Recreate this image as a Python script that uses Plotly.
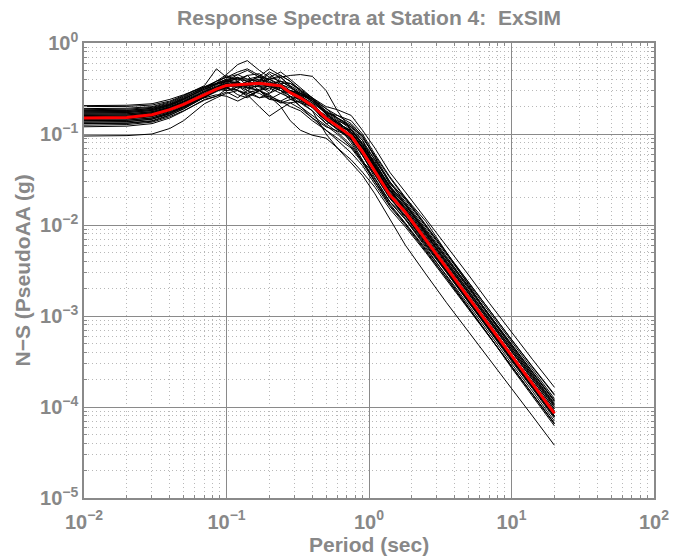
import plotly.graph_objects as go

# Periods (sec) at which spectra are sampled
periods = [0.01, 0.02, 0.03, 0.04, 0.05, 0.06, 0.07, 0.085, 0.1, 0.12,
           0.14, 0.17, 0.2, 0.24, 0.28, 0.33, 0.4, 0.5, 0.6, 0.75,
           0.9, 1.1, 1.4, 1.8, 2.5, 3.5, 5, 7, 10, 14, 20]

# Mean spectrum (red)
mean_sa = [0.150, 0.152, 0.163, 0.185, 0.212, 0.243, 0.272, 0.312, 0.342, 0.348,
           0.350, 0.362, 0.350, 0.338, 0.285, 0.250, 0.205, 0.149, 0.122, 0.095,
           0.064, 0.0385, 0.0214, 0.0138, 0.0069, 0.0034, 0.00159, 0.00078, 0.00036, 0.000181,
           0.000085]

# Individual realizations (black)
c01 = [0.095, 0.096, 0.100, 0.115, 0.140, 0.175, 0.215, 0.250, 0.280, 0.300,
       0.260, 0.300, 0.240, 0.230, 0.260, 0.240, 0.195, 0.140, 0.112, 0.086,
       0.058, 0.036, 0.0200, 0.0128, 0.0064, 0.0032, 0.00150, 0.00072, 0.00034, 0.000170,
       0.000080]
c02 = [0.205, 0.207, 0.215, 0.240, 0.270, 0.300, 0.330, 0.380, 0.420, 0.450,
       0.400, 0.430, 0.520, 0.440, 0.380, 0.300, 0.250, 0.190, 0.150, 0.120,
       0.085, 0.052, 0.0290, 0.0180, 0.0092, 0.0045, 0.00210, 0.00102, 0.00048, 0.000240,
       0.000115]
c03 = [0.160, 0.162, 0.172, 0.195, 0.225, 0.260, 0.290, 0.330, 0.360, 0.300,
       0.270, 0.200, 0.157, 0.190, 0.220, 0.230, 0.200, 0.160, 0.130, 0.090,
       0.072, 0.050, 0.0260, 0.0140, 0.0066, 0.0034, 0.00165, 0.00081, 0.00038, 0.000190,
       0.000090]
c04 = [0.170, 0.172, 0.180, 0.205, 0.240, 0.280, 0.320, 0.380, 0.450, 0.580,
       0.640, 0.500, 0.420, 0.380, 0.330, 0.280, 0.230, 0.165, 0.135, 0.105,
       0.070, 0.042, 0.0235, 0.0150, 0.0075, 0.0037, 0.00175, 0.00086, 0.00040, 0.000200,
       0.000095]
c05 = [0.150, 0.152, 0.160, 0.180, 0.205, 0.235, 0.260, 0.300, 0.330, 0.340,
       0.360, 0.380, 0.400, 0.420, 0.440, 0.450, 0.430, 0.300, 0.180, 0.110,
       0.075, 0.046, 0.0260, 0.0165, 0.0082, 0.0040, 0.00190, 0.00094, 0.00044, 0.000220,
       0.000105]
c06 = [0.140, 0.142, 0.150, 0.170, 0.200, 0.230, 0.260, 0.300, 0.330, 0.340,
       0.320, 0.340, 0.330, 0.300, 0.260, 0.220, 0.180, 0.100, 0.070, 0.048,
       0.035, 0.022, 0.0115, 0.0060, 0.0029, 0.00140, 0.00067, 0.00033, 0.000160, 0.000080,
       0.000038]
c07 = [0.130, 0.131, 0.138, 0.160, 0.190, 0.225, 0.255, 0.300, 0.340, 0.380,
       0.440, 0.330, 0.300, 0.420, 0.330, 0.260, 0.200, 0.150, 0.125, 0.098,
       0.066, 0.040, 0.0220, 0.0140, 0.0070, 0.0034, 0.00160, 0.00078, 0.00036, 0.000180,
       0.000085]
c08 = [0.180, 0.182, 0.192, 0.215, 0.250, 0.290, 0.330, 0.360, 0.400, 0.420,
       0.380, 0.420, 0.400, 0.350, 0.320, 0.280, 0.230, 0.170, 0.140, 0.120,
       0.095, 0.055, 0.0280, 0.0200, 0.0110, 0.0050, 0.00215, 0.00100, 0.00046, 0.000230,
       0.000110]
c09 = [0.145, 0.146, 0.155, 0.175, 0.200, 0.230, 0.250, 0.270, 0.260, 0.230,
       0.260, 0.300, 0.250, 0.220, 0.220, 0.190, 0.150, 0.110, 0.090, 0.070,
       0.048, 0.030, 0.0170, 0.0105, 0.0055, 0.0028, 0.00132, 0.00064, 0.00030, 0.000150,
       0.000070]
c10 = [0.155, 0.157, 0.168, 0.192, 0.220, 0.250, 0.280, 0.320, 0.380, 0.450,
       0.500, 0.420, 0.350, 0.380, 0.330, 0.270, 0.210, 0.155, 0.125, 0.080,
       0.050, 0.036, 0.0240, 0.0150, 0.0068, 0.0033, 0.00160, 0.00079, 0.00037, 0.000185,
       0.000088]
c11 = [0.165, 0.167, 0.176, 0.200, 0.230, 0.260, 0.290, 0.360, 0.440, 0.380,
       0.320, 0.390, 0.480, 0.420, 0.340, 0.290, 0.240, 0.180, 0.150, 0.115,
       0.078, 0.048, 0.0270, 0.0172, 0.0086, 0.0042, 0.00198, 0.00097, 0.00045, 0.000225,
       0.000107]
c12 = [0.135, 0.137, 0.146, 0.168, 0.195, 0.225, 0.250, 0.290, 0.330, 0.270,
       0.250, 0.300, 0.270, 0.220, 0.240, 0.260, 0.200, 0.130, 0.105, 0.075,
       0.050, 0.030, 0.0165, 0.0103, 0.0053, 0.0026, 0.00124, 0.00060, 0.00028, 0.000140,
       0.000066]
c13 = [0.175, 0.177, 0.186, 0.210, 0.245, 0.280, 0.310, 0.350, 0.380, 0.400,
       0.440, 0.460, 0.380, 0.330, 0.290, 0.270, 0.240, 0.190, 0.160, 0.130,
       0.095, 0.056, 0.0300, 0.0190, 0.0096, 0.0048, 0.00225, 0.00110, 0.00052, 0.000260,
       0.000124]
c14 = [0.190, 0.192, 0.200, 0.225, 0.260, 0.300, 0.330, 0.360, 0.380, 0.360,
       0.340, 0.360, 0.330, 0.320, 0.280, 0.240, 0.200, 0.150, 0.120, 0.110,
       0.085, 0.045, 0.0220, 0.0135, 0.0066, 0.0032, 0.00150, 0.00073, 0.00034, 0.000170,
       0.000080]
c15 = [0.125, 0.127, 0.135, 0.155, 0.180, 0.210, 0.235, 0.260, 0.310, 0.380,
       0.300, 0.250, 0.280, 0.360, 0.360, 0.300, 0.220, 0.150, 0.118, 0.088,
       0.058, 0.035, 0.0195, 0.0125, 0.0062, 0.0030, 0.00140, 0.00068, 0.00032, 0.000160,
       0.000075]
c16 = [0.160, 0.161, 0.170, 0.195, 0.225, 0.255, 0.290, 0.330, 0.390, 0.330,
       0.380, 0.300, 0.320, 0.280, 0.250, 0.200, 0.160, 0.125, 0.100, 0.072,
       0.050, 0.032, 0.0180, 0.0115, 0.0060, 0.0030, 0.00142, 0.00070, 0.00033, 0.000165,
       0.000079]
c17 = [0.140, 0.141, 0.150, 0.172, 0.200, 0.232, 0.265, 0.300, 0.320, 0.300,
       0.280, 0.310, 0.340, 0.380, 0.360, 0.310, 0.250, 0.170, 0.130, 0.110,
       0.080, 0.052, 0.0300, 0.0170, 0.0080, 0.0038, 0.00178, 0.00087, 0.00040, 0.000200,
       0.000095]
c18 = [0.170, 0.172, 0.182, 0.205, 0.235, 0.270, 0.300, 0.360, 0.400, 0.340,
       0.300, 0.360, 0.400, 0.440, 0.380, 0.300, 0.240, 0.165, 0.135, 0.105,
       0.072, 0.044, 0.0245, 0.0158, 0.0080, 0.0040, 0.00188, 0.00092, 0.00043, 0.000215,
       0.000102]
c19 = [0.150, 0.151, 0.160, 0.182, 0.210, 0.240, 0.270, 0.320, 0.360, 0.340,
       0.280, 0.250, 0.260, 0.230, 0.200, 0.180, 0.140, 0.110, 0.085, 0.062,
       0.045, 0.028, 0.0160, 0.0100, 0.0052, 0.0026, 0.00122, 0.00059, 0.00028, 0.000138,
       0.000065]
c20 = [0.185, 0.187, 0.196, 0.220, 0.255, 0.290, 0.320, 0.360, 0.390, 0.410,
       0.400, 0.380, 0.350, 0.330, 0.300, 0.270, 0.230, 0.175, 0.150, 0.125,
       0.090, 0.058, 0.0330, 0.0195, 0.0098, 0.0049, 0.00232, 0.00115, 0.00054, 0.000275,
       0.000135]
c21 = [0.155, 0.156, 0.165, 0.188, 0.215, 0.245, 0.275, 0.310, 0.340, 0.360,
       0.340, 0.330, 0.350, 0.320, 0.300, 0.280, 0.250, 0.200, 0.185, 0.160,
       0.110, 0.070, 0.0380, 0.0230, 0.0118, 0.0059, 0.00282, 0.00138, 0.00066, 0.000335,
       0.000165]
c22 = [0.200, 0.201, 0.208, 0.230, 0.265, 0.300, 0.340, 0.520, 0.420, 0.400,
       0.380, 0.400, 0.370, 0.340, 0.280, 0.230, 0.180, 0.130, 0.140, 0.100,
       0.060, 0.033, 0.0180, 0.0115, 0.0057, 0.0027, 0.00125, 0.00060, 0.00027, 0.000132,
       0.000062]
c23 = [0.130, 0.132, 0.140, 0.162, 0.188, 0.220, 0.250, 0.300, 0.360, 0.420,
       0.340, 0.380, 0.460, 0.360, 0.300, 0.280, 0.240, 0.165, 0.135, 0.105,
       0.072, 0.045, 0.0255, 0.0165, 0.0085, 0.0043, 0.00205, 0.00101, 0.00048, 0.000240,
       0.000118]
c24 = [0.145, 0.147, 0.157, 0.180, 0.210, 0.245, 0.280, 0.330, 0.370, 0.320,
       0.360, 0.440, 0.400, 0.330, 0.280, 0.240, 0.195, 0.140, 0.112, 0.095,
       0.070, 0.042, 0.0205, 0.0118, 0.0061, 0.0031, 0.00144, 0.00070, 0.00033, 0.000165,
       0.000078]
c25 = [0.165, 0.166, 0.175, 0.198, 0.228, 0.262, 0.295, 0.340, 0.300, 0.310,
       0.380, 0.350, 0.420, 0.480, 0.400, 0.320, 0.250, 0.175, 0.145, 0.112,
       0.076, 0.047, 0.0265, 0.0172, 0.0088, 0.0044, 0.00210, 0.00103, 0.00049, 0.000245,
       0.000118]
c26 = [0.120, 0.122, 0.130, 0.150, 0.178, 0.210, 0.240, 0.260, 0.290, 0.250,
       0.300, 0.280, 0.240, 0.280, 0.300, 0.260, 0.200, 0.140, 0.115, 0.085,
       0.052, 0.030, 0.0180, 0.0125, 0.0065, 0.0031, 0.00145, 0.00071, 0.00033, 0.000165,
       0.000078]
c27 = [0.180, 0.181, 0.190, 0.212, 0.245, 0.280, 0.310, 0.350, 0.380, 0.370,
       0.330, 0.300, 0.260, 0.200, 0.140, 0.110, 0.097, 0.090, 0.070, 0.052,
       0.038, 0.026, 0.0150, 0.0095, 0.0050, 0.0025, 0.00120, 0.00059, 0.00028, 0.000140,
       0.000066]
c28 = [0.135, 0.136, 0.145, 0.166, 0.195, 0.228, 0.262, 0.300, 0.320, 0.370,
       0.320, 0.300, 0.340, 0.300, 0.280, 0.260, 0.220, 0.170, 0.160, 0.140,
       0.100, 0.060, 0.0340, 0.0200, 0.0100, 0.0050, 0.00238, 0.00117, 0.00055, 0.000280,
       0.000138]
c29 = [0.175, 0.176, 0.185, 0.208, 0.240, 0.275, 0.310, 0.380, 0.420, 0.480,
       0.520, 0.440, 0.360, 0.300, 0.240, 0.220, 0.200, 0.155, 0.130, 0.102,
       0.070, 0.043, 0.0240, 0.0155, 0.0078, 0.0039, 0.00183, 0.00090, 0.00042, 0.000210,
       0.000100]
c30 = [0.150, 0.151, 0.159, 0.180, 0.208, 0.240, 0.270, 0.310, 0.300, 0.330,
       0.380, 0.340, 0.280, 0.320, 0.260, 0.200, 0.150, 0.120, 0.108, 0.092,
       0.066, 0.041, 0.0228, 0.0146, 0.0073, 0.0036, 0.00168, 0.00082, 0.00038, 0.000190,
       0.000090]

curves = [c01, c02, c03, c04, c05, c06, c07, c08, c09, c10,
          c11, c12, c13, c14, c15, c16, c17, c18, c19, c20,
          c21, c22, c23, c24, c25, c26, c27, c28, c29, c30]

# Axis ticks
x_major = [0.01, 0.1, 1, 10, 100]
x_major_text = ["10<sup>−2</sup>", "10<sup>−1</sup>", "10<sup>0</sup>", "10<sup>1</sup>", "10<sup>2</sup>"]
y_major = [1e-5, 1e-4, 1e-3, 1e-2, 1e-1, 1]
y_major_text = ["10<sup>−5</sup>", "10<sup>−4</sup>", "10<sup>−3</sup>", "10<sup>−2</sup>", "10<sup>−1</sup>", "10<sup>0</sup>"]
x_minor = [m * d for d in [0.01, 0.1, 1, 10] for m in range(2, 10)]
y_minor = [m * d for d in [1e-5, 1e-4, 1e-3, 1e-2, 1e-1] for m in range(2, 10)]

GRAY = "#8a8a8a"
TEXT_GRAY = "#888888"
FONT = "Liberation Sans, Arial, Helvetica, sans-serif"

fig = go.Figure()
for c in curves:
    fig.add_trace(go.Scatter(x=periods, y=c, mode="lines",
                             line=dict(color="black", width=1),
                             showlegend=False, hoverinfo="skip"))
fig.add_trace(go.Scatter(x=periods, y=mean_sa, mode="lines",
                         line=dict(color="#ff0000", width=3),
                         showlegend=False, hoverinfo="skip"))

axis_common = dict(
    type="log",
    showline=True, linecolor=GRAY, linewidth=1.5, mirror="ticks",
    ticks="inside", ticklen=6, tickcolor=GRAY, tickwidth=1,
    showgrid=True, gridcolor=GRAY, gridwidth=1,
    zeroline=False,
    tickmode="array",
    tickfont=dict(family=FONT, size=20, color=TEXT_GRAY, weight="bold"),
)

fig.update_xaxes(
    range=[-2, 2],
    tickvals=x_major, ticktext=x_major_text,
    ticklabelstandoff=5,
    minor=dict(tickmode="array", tickvals=x_minor, ticks="inside", ticklen=3,
               tickcolor=GRAY, showgrid=True, gridcolor="#b8b8b8",
               griddash="1px,3px", gridwidth=1),
    **axis_common,
)
fig.update_yaxes(
    range=[-5, 0],
    tickvals=y_major, ticktext=y_major_text,
    minor=dict(tickmode="array", tickvals=y_minor, ticks="inside", ticklen=3,
               tickcolor=GRAY, showgrid=True, gridcolor="#b8b8b8",
               griddash="1px,3px", gridwidth=1),
    **axis_common,
)

fig.update_layout(
    width=681, height=557,
    margin=dict(l=84, r=18, t=43, b=59),
    paper_bgcolor="white", plot_bgcolor="white",
    title=dict(text="<b>Response Spectra at Station 4:\u00a0 ExSIM</b>",
               x=0.5, xref="paper", y=1 - 18 / 557, yref="container",
               xanchor="center", yanchor="middle",
               font=dict(family=FONT, size=21, color=TEXT_GRAY)),
    annotations=[
        dict(text="<b>Period (sec)</b>", xref="paper", yref="paper",
             x=0.5, y=-(544 - 498) / 455, xanchor="center", yanchor="middle",
             showarrow=False, font=dict(family=FONT, size=21, color=TEXT_GRAY)),
        dict(text="<b>N−S (PseudoAA (g)</b>", xref="paper", yref="paper",
             x=(22 - 84) / 579, y=0.5, xanchor="center", yanchor="middle",
             textangle=-90, showarrow=False,
             font=dict(family=FONT, size=21, color=TEXT_GRAY)),
    ],
)

fig.write_html("out.html")
